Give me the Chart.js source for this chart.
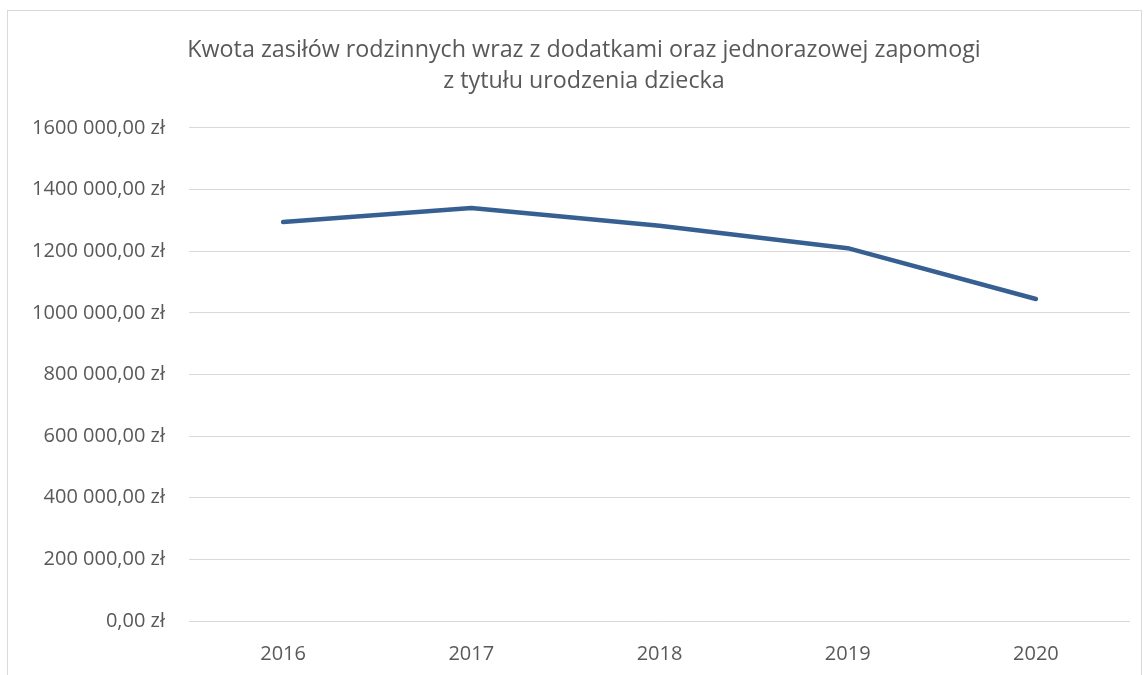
<!DOCTYPE html>
<html>
<head>
<meta charset="utf-8">
<script src="https://cdn.jsdelivr.net/npm/chart.js@4/dist/chart.umd.min.js"></script>
<style>
html,body{margin:0;padding:0;background:#fff;overflow:hidden;}
#wrap{position:absolute;left:0;top:0;width:1145px;height:675px;}
#frame{position:absolute;left:7px;top:10px;width:1135px;height:700px;border:1px solid #d9d9d9;box-sizing:border-box;pointer-events:none;}
</style>
</head>
<body>
<div id="wrap"><canvas id="c" width="1145" height="675"></canvas></div>
<div id="frame"></div>
<script>
const titleLines = ["Kwota zasiłów rodzinnych wraz z dodatkami oraz jednorazowej zapomogi", "z tytułu urodzenia dziecka"];
const categories = ["2016", "2017", "2018", "2019", "2020"];
const amounts = [1295000, 1340000, 1283000, 1210000, 1045000];
const yTickValues = [0, 200000, 400000, 600000, 800000, 1000000, 1200000, 1400000, 1600000];
const yTickLabels = ["0,00 zł", "200 000,00 zł", "400 000,00 zł", "600 000,00 zł", "800 000,00 zł", "1000 000,00 zł", "1200 000,00 zł", "1400 000,00 zł", "1600 000,00 zł"];

const FONT = "'Open Sans', Lato, sans-serif";
const TXT = "#595959";

const titleShift = {
  id: 'titleShift',
  afterLayout(chart) {
    const tb = chart.titleBlock;
    if (tb) { tb.left += 19; tb.right += 19; }
  }
};

new Chart(document.getElementById('c'), {
  type: 'line',
  data: {
    labels: categories,
    datasets: [{
      data: amounts,
      borderColor: '#376092',
      borderWidth: 4.5,
      pointRadius: 0,
      pointHoverRadius: 0,
      tension: 0,
      borderCapStyle: 'round',
      borderJoinStyle: 'round',
      fill: false
    }]
  },
  options: {
    responsive: false,
    animation: false,
    devicePixelRatio: 1,
    layout: { padding: { left: 0, right: 15, top: 0, bottom: 0 } },
    plugins: {
      legend: { display: false },
      tooltip: { enabled: false },
      title: {
        display: true,
        text: titleLines,
        color: TXT,
        font: { family: FONT, size: 23.3, weight: 'normal', lineHeight: 1.33 },
        padding: { top: 35, bottom: 31 }
      }
    },
    scales: {
      x: {
        type: 'category',
        offset: true,
        grid: { display: false, drawTicks: false },
        border: { display: false },
        ticks: { color: TXT, font: { family: FONT, size: 20 }, padding: 21, maxRotation: 0 },
        afterFit: s => { s.height = 54; }
      },
      y: {
        min: 0,
        max: 1600000,
        afterBuildTicks: s => { s.ticks = yTickValues.map(v => ({ value: v })); },
        grid: { color: '#d9d9d9', lineWidth: 1, drawTicks: false },
        border: { display: false },
        ticks: {
          color: TXT,
          font: { family: FONT, size: 20 },
          padding: 24,
          callback: v => yTickLabels[yTickValues.indexOf(v)]
        },
        afterFit: s => { s.width = 189; }
      }
    }
  },
  plugins: [titleShift]
});
</script>
</body>
</html>
